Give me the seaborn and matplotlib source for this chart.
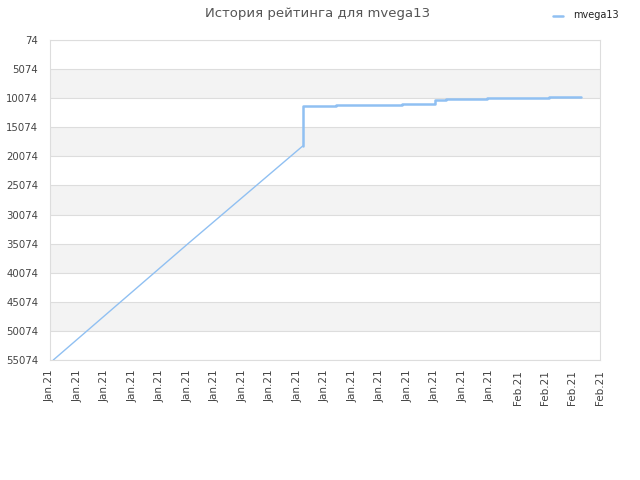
import matplotlib
matplotlib.use("Agg")
import matplotlib.pyplot as plt
import seaborn as sns
import numpy as np

# ---- data ----
tick_labels = ["Jan.21"] * 17 + ["Feb.21"] * 4
y_ticks = [74, 5074, 10074, 15074, 20074, 25074, 30074, 35074, 40074, 45074, 50074, 55074]

# rising part (tick units on x, rating position on y)
rise_x = [0.12, 5.02, 9.19]
rise_y = [55074, 35074, 18293]

# plateau part
plat_x = [9.19, 9.19, 10.40, 12.80, 13.96, 14.00, 14.40, 15.88, 18.13, 19.30]
plat_y = [18293, 11366, 11194, 11022, 11022, 10387, 10163, 9991, 9819, 9819]

series_name = "mvega13"
title = "История рейтинга для mvega13"

line_color = "#90c0f2"

sns.set_theme(style="white")
plt.rcParams['font.family'] = ['DejaVu Sans']

fig = plt.figure(figsize=(6.4, 4.8), dpi=100)
ax = fig.add_axes([50/640, 120/480, 550/640, 320/480])

# alternating bands
for i in range(len(y_ticks) - 1):
    if i % 2 == 1:
        ax.axhspan(y_ticks[i], y_ticks[i+1], color="#f3f3f3", zorder=0, lw=0)
for v in y_ticks:
    ax.axhline(v, color="#dddddd", lw=0.8, zorder=1)

sns.lineplot(x=rise_x, y=rise_y, ax=ax, color=line_color, lw=1.0,
             sort=False, estimator=None, legend=False, zorder=3)
sns.lineplot(x=plat_x, y=plat_y, ax=ax, color=line_color, lw=1.8,
             sort=False, estimator=None, legend=False, zorder=3,
             drawstyle="steps-post")

ax.set_xlim(0, len(tick_labels) - 1)
ax.set_ylim(55074, 74)
ax.set_yticks(y_ticks)
ax.set_yticklabels([str(v) for v in y_ticks], fontsize=7.3, color="#444444")
ax.set_xticks(range(len(tick_labels)))
ax.set_xticklabels(tick_labels, rotation=90, fontsize=7.5, color="#444444")
ax.tick_params(axis="x", length=0, pad=7)
ax.tick_params(axis="y", length=0, pad=8.5)
ax.set_xlabel("")
ax.set_ylabel("")
for s in ax.spines.values():
    s.set_color("#dddddd")
    s.set_linewidth(0.8)

fig.text(318/640, 1 - 13/480, title, ha="center", va="center", fontsize=9.5, color="#555555")

# legend
fig.lines.append(plt.Line2D([553/640, 563/640], [1 - 16/480, 1 - 16/480],
                            transform=fig.transFigure, color=line_color, lw=1.8))
fig.text(573/640, 1 - 15/480, series_name, ha="left", va="center", fontsize=7, color="#222222")

fig.savefig("out.png", dpi=100)
